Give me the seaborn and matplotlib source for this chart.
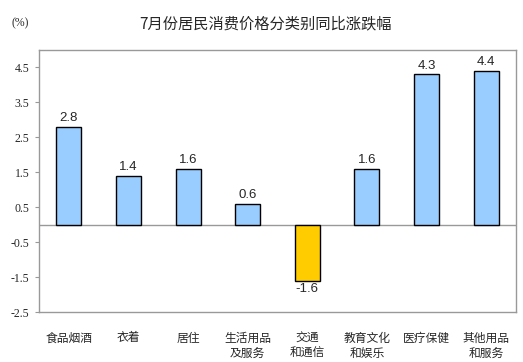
import numpy as np
import pandas as pd

import matplotlib.pyplot as plt

import seaborn as sns

categories = ['食品烟酒', '衣着', '居住', '生活用品\n及服务', '交通\n和通信',
              '教育文化\n和娱乐', '医疗保健', '其他用品\n和服务']
values = [2.8, 1.4, 1.6, 0.6, -1.6, 1.6, 4.3, 4.4]
yticks = [4.5, 3.5, 2.5, 1.5, 0.5, -0.5, -1.5, -2.5]

sns.set_theme(style='white')
plt.rcParams['font.family'] = ['Noto Sans CJK SC', 'DejaVu Sans']

df = pd.DataFrame({'cat': categories, 'val': values})
df['sign'] = np.where(df['val'] >= 0, 'up', 'down')

fig = plt.figure(figsize=(5.23, 3.62), dpi=100)
ax = fig.add_axes([0.0746, 0.138, 0.912, 0.724])

sns.barplot(data=df, x='cat', y='val', hue='sign',
            palette={'up': '#99CCFF', 'down': '#FFCC00'}, saturation=1,
            dodge=False, width=0.42, edgecolor='black', linewidth=1.0,
            legend=False, ax=ax)

ax.set_ylim(-2.5, 5.0)
ax.set_xlim(-0.5, len(categories) - 0.5)
ax.axhline(0, color='#999999', lw=1.0, zorder=0)

ax.set_yticks(yticks)
ax.set_yticklabels([f'{t:.1f}' for t in yticks], fontsize=8.5,
                   family=['Liberation Serif'])
ax.tick_params(axis='y', left=True, length=3, width=0.8, color='#999999', pad=4)
ax.tick_params(axis='x', bottom=False, pad=8)
ax.set_xticks(range(len(categories)))
ax.set_xticklabels(categories, fontsize=8.5, linespacing=1.25)
for lab in ax.get_xticklabels():
    lab.set_verticalalignment('top')

for s in ax.spines.values():
    s.set_color('#999999')
    s.set_linewidth(1.0)

ax.set_xlabel('')
ax.set_ylabel('')

for i, v in enumerate(values):
    if v >= 0:
        ax.text(i, v + 0.08, f'{v:.1f}', ha='center', va='bottom', fontsize=9.5,
                family=['Liberation Sans'])
    else:
        ax.text(i, v - 0.08, f'{v:.1f}', ha='center', va='top', fontsize=9.5,
                family=['Liberation Sans'])

fig.text(0.507, 0.935, '7月份居民消费价格分类别同比涨跌幅', ha='center', va='center',
         fontsize=11)
fig.text(0.038, 0.935, '(%)', ha='center', va='center', fontsize=8.5,
         family=['Liberation Serif'])

plt.savefig('out.png', dpi=100)
